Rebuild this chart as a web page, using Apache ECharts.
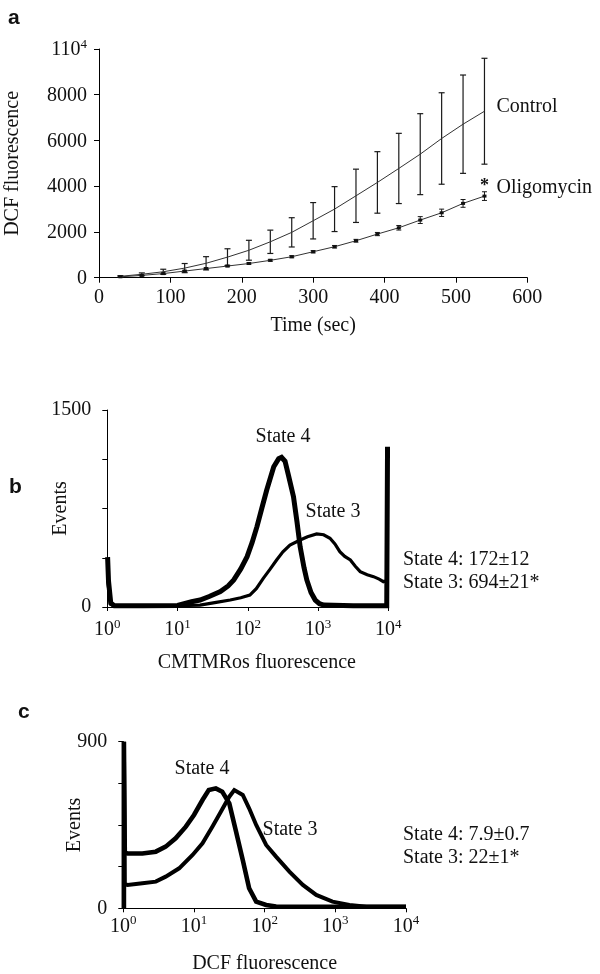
<!DOCTYPE html>
<html><head><meta charset="utf-8">
<script src="https://cdn.jsdelivr.net/npm/echarts@6/dist/echarts.min.js"></script>
<style>html,body{margin:0;padding:0;background:#fff}#c{width:600px;height:974px}</style>
</head><body><div id="c"></div>
<script>
// ---- Panel a data ----
const timeSec     = [30, 60, 90, 120, 150, 180, 210, 240, 270, 300, 330, 360, 390, 420, 450, 480, 510, 540];
const controlMean = [60, 150, 260, 420, 630, 900, 1200, 1570, 1983, 2490, 3000, 3581, 4166, 4777, 5402, 6087, 6712, 7279];
const controlSD   = [30, 60, 110, 200, 290, 365, 435, 510, 640, 795, 982, 1165, 1345, 1535, 1770, 2000, 2150, 2315];
const oligoMean   = [40, 100, 180, 290, 400, 510, 620, 760, 917, 1135, 1354, 1616, 1908, 2183, 2520, 2838, 3249, 3568];
const oligoSD     = [15, 20, 25, 30, 30, 30, 35, 40, 45, 50, 55, 60, 70, 100, 150, 160, 170, 190];

// ---- Panel b data (CMTMRos fluorescence, events) ----
const cmtState4 = [[1.01,380],[1.04,200],[1.12,30],[1.26,10],[3.16,10],[10,12],[15.8,40],[20.9,53],[28.2,80],[40.7,117],[52.5,160],[63.1,206],[79.4,290],[97.7,383],[115,490],[135,612],[158,750],[186,891],[234,1068],[275,1130],[302,1140],[339,1110],[380,1000],[447,840],[501,650],[556,459],[631,300],[692,206],[794,110],[912,53],[1047,25],[1202,15],[3162,10],[9500,10],[9750,1220]];
const cmtState3 = [[1.01,200],[1.12,20],[1.26,10],[10,10],[20.9,15],[35.5,35],[56.2,53],[79.4,70],[107,91],[132,140],[166,218],[209,290],[257,358],[316,420],[398,472],[556,510],[708,535],[955,556],[1202,550],[1479,523],[1738,480],[2042,421],[2399,385],[2884,358],[3388,310],[3981,269],[5012,245],[6166,231],[7413,212],[8511,193],[9500,200]];

// ---- Panel c data (DCF fluorescence, events) ----
const dcfState4 = [[1.02,0],[1.02,900],[1.05,300],[1.15,296],[1.86,296],[2.88,306],[3.98,333],[5.5,378],[7.67,441],[10,504],[13.2,585],[16.2,639],[20.4,648],[25.1,630],[31.6,567],[38.9,423],[49,261],[60.3,108],[75.9,36],[105,18],[145,10],[1000,8],[10000,8]];
const dcfState3 = [[1.02,0],[1.02,900],[1.05,130],[1.15,126],[1.86,135],[2.88,144],[3.98,171],[6.17,216],[9.55,288],[13.2,351],[18.2,441],[24,522],[31.6,603],[37.2,639],[49,612],[60.3,540],[75.9,450],[105,342],[145,279],[224,198],[347,126],[537,72],[912,36],[1585,18],[2754,8],[10000,8]];

const FONT = "'Liberation Serif','Times New Roman',serif";
const chart = echarts.init(document.getElementById('c'), null, {renderer: 'canvas'});

function errData(means, sds) {
  return timeSec.map((t, i) => [t, means[i] - sds[i], means[i] + sds[i]]);
}
function errSeries(means, sds, half, width) {
  return {
    type: 'custom', xAxisIndex: 0, yAxisIndex: 0, z: 3,
    data: errData(means, sds),
    renderItem: function (params, api) {
      const lo = api.coord([api.value(0), api.value(1)]);
      const hi = api.coord([api.value(0), api.value(2)]);
      const st = {stroke: '#1a1a1a', lineWidth: width};
      return {type: 'group', children: [
        {type: 'line', shape: {x1: lo[0], y1: lo[1], x2: hi[0], y2: hi[1]}, style: st},
        {type: 'line', shape: {x1: lo[0]-half, y1: lo[1], x2: lo[0]+half, y2: lo[1]}, style: st},
        {type: 'line', shape: {x1: hi[0]-half, y1: hi[1], x2: hi[0]+half, y2: hi[1]}, style: st}
      ]};
    }
  };
}
const axisCommon = {
  nameMoveOverlap: false,
  axisLine: {lineStyle: {color: '#000', width: 1}},
  axisTick: {lineStyle: {color: '#000', width: 1}, length: 5},
  splitLine: {show: false},
  axisLabel: {color: '#111', fontFamily: FONT, fontSize: 20}
};
const supRich = {
  b: {fontFamily: FONT, fontSize: 20, color: '#111', lineHeight: 22, verticalAlign: 'bottom'},
  sup: {fontFamily: FONT, fontSize: 13, color: '#111', lineHeight: 14, verticalAlign: 'top'}
};
function logFmt(v) {
  return '{b|10}{sup|' + Math.round(Math.log10(v)) + '}';
}
function logX(gridIndex, name, gap, pad, margin) {
  return Object.assign({}, axisCommon, {
    type: 'log', logBase: 10, min: 1, max: 10000, gridIndex: gridIndex,
    name: name, nameLocation: 'middle', nameGap: gap,
    nameTextStyle: {fontFamily: FONT, fontSize: 20, color: '#111', padding: pad},
    axisTick: {lineStyle: {color: '#000', width: 1}, length: 4},
    minorTick: {show: false},
    axisLabel: {margin: margin, formatter: logFmt, rich: supRich}
  });
}
function histY(gridIndex, max, interval, gap) {
  return Object.assign({}, axisCommon, {
    type: 'value', min: 0, max: max, interval: interval, gridIndex: gridIndex,
    name: 'Events', nameLocation: 'middle', nameGap: gap, nameRotate: 90,
    nameTextStyle: {fontFamily: FONT, fontSize: 20, color: '#111'},
    axisLabel: {color: '#111', fontFamily: FONT, fontSize: 20, margin: 16,
      formatter: v => (v === 0 || v === max) ? String(v) : ''}
  });
}
function hist(xi, data, w) {
  return {type: 'line', xAxisIndex: xi, yAxisIndex: xi, data: data, showSymbol: false,
    clip: false, lineStyle: {color: '#000', width: w, join: 'miter'}, z: 2};
}
const txt = (x, y, s, align, size, weight, family) => ({
  type: 'text', style: {x: x, y: y, text: s, align: align || 'center', verticalAlign: 'middle',
    fontFamily: family || FONT, fontSize: size || 20, fontWeight: weight || 'normal', fill: '#111'}
});

const option = {
  animation: false,
  backgroundColor: '#fff',
  grid: [
    {left: 99, top: 49, width: 428.3, height: 228.7, outerBoundsMode: 'none', containLabel: false},
    {left: 107.3, top: 410, width: 281, height: 197, outerBoundsMode: 'none', containLabel: false},
    {left: 123.3, top: 741.7, width: 282.7, height: 166.6, outerBoundsMode: 'none', containLabel: false}
  ],
  xAxis: [
    Object.assign({}, axisCommon, {type: 'value', min: 0, max: 600, interval: 100, gridIndex: 0,
      name: 'Time (sec)', nameLocation: 'middle', nameGap: 38,
      nameTextStyle: {fontFamily: FONT, fontSize: 20, color: '#111'},
      axisLabel: {color: '#111', fontFamily: FONT, fontSize: 20, margin: 10}}),
    logX(1, 'CMTMRos fluorescence', 46, [0, 0, 0, 18], 11),
    logX(2, 'DCF fluorescence', 45, [0, 0, 0, 0], 6)
  ],
  yAxis: [
    Object.assign({}, axisCommon, {type: 'value', min: 0, max: 10000, interval: 2000, gridIndex: 0,
      name: 'DCF fluorescence', nameLocation: 'middle', nameGap: 76, nameRotate: 90,
      nameTextStyle: {fontFamily: FONT, fontSize: 20, color: '#111'},
      axisLabel: {margin: 12, formatter: v => v === 10000 ? '{b|110}{sup|4}' : '{b|' + v + '}', rich: supRich}}),
    histY(1, 1500, 375, 37),
    histY(2, 900, 225, 39)
  ],
  series: [
    {type: 'line', xAxisIndex: 0, yAxisIndex: 0, data: timeSec.map((t, i) => [t, controlMean[i]]),
      showSymbol: false, symbol: 'none', lineStyle: {color: '#333', width: 1},
      endLabel: {show: true, formatter: 'Control', distance: 12, offset: [0, -4],
        fontFamily: FONT, fontSize: 20, color: '#111'}},
    {type: 'line', xAxisIndex: 0, yAxisIndex: 0, data: timeSec.map((t, i) => [t, oligoMean[i]]),
      symbol: 'rect', symbolSize: [4, 3], showSymbol: true, itemStyle: {color: '#111'},
      lineStyle: {color: '#333', width: 1},
      endLabel: {show: true, formatter: 'Oligomycin', distance: 12, offset: [0, -8],
        fontFamily: FONT, fontSize: 20, color: '#111'},
      markPoint: {symbol: 'circle', symbolSize: 0, silent: true,
        data: [{coord: [timeSec[timeSec.length - 1], oligoMean[oligoMean.length - 1]]}],
        label: {show: true, formatter: '*', offset: [0, -10], fontFamily: FONT, fontSize: 18,
          fontWeight: 'bold', color: '#111'}}},
    errSeries(controlMean, controlSD, 3, 1.2),
    errSeries(oligoMean, oligoSD, 2.5, 1),
    hist(1, cmtState3, 3.2),
    hist(1, cmtState4, 5),
    hist(2, dcfState3, 4),
    hist(2, dcfState4, 4.6)
  ],
  graphic: [
    txt(8, 18, 'a', 'left', 21, 'bold', "'Liberation Sans',Arial,sans-serif"),
    txt(9, 487, 'b', 'left', 21, 'bold', "'Liberation Sans',Arial,sans-serif"),
    txt(18, 712, 'c', 'left', 21, 'bold', "'Liberation Sans',Arial,sans-serif"),
    txt(283, 437, 'State 4'),
    txt(333, 512, 'State 3'),
    txt(403, 560, 'State 4: 172\u00b112', 'left'),
    txt(403, 583, 'State 3: 694\u00b121*', 'left'),
    txt(202, 769, 'State 4'),
    txt(290, 830, 'State 3'),
    txt(403, 835, 'State 4: 7.9\u00b10.7', 'left'),
    txt(403, 858, 'State 3: 22\u00b11*', 'left')
  ]
};
chart.setOption(option);
</script></body></html>
